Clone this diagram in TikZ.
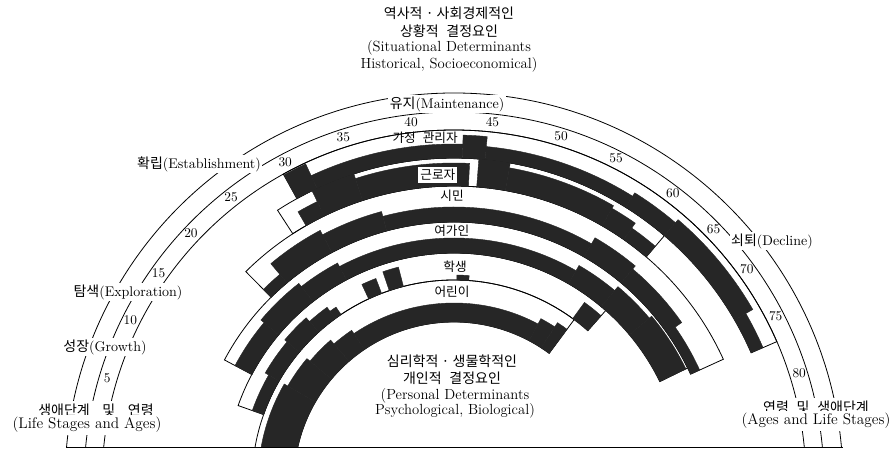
\documentclass[tikz,border=0pt]{standalone}
\usepackage{fontspec}
\newfontfamily\kr{Noto Sans CJK KR}
\newcommand\sect[4]{(#1:#3) arc[start angle=#1,end angle=#2,radius=#3] -- (#2:#4) arc[start angle=#2,end angle=#1,radius=#4] -- cycle}
\newcommand\wsp{\hspace{0.55em}}
\begin{document}
\begin{tikzpicture}[x=0.75pt,y=0.75pt,
  blk/.style={fill=black!85,draw=black!85,line width=0.3pt},
  ln/.style={line width=0.6pt},
  kor/.style={font=\kr\fontsize{10.5}{12}\selectfont,inner sep=0.5pt},
  eng/.style={font=\fontsize{11}{13}\selectfont,inner sep=0.5pt},
  agel/.style={font=\fontsize{10}{12}\selectfont,inner sep=0.5pt},
  stage/.style={font=\fontsize{10.5}{12}\selectfont,fill=white,inner sep=1pt},
  role/.style={font=\kr\fontsize{9.5}{11}\selectfont,inner sep=0.5pt}]
\useasboundingbox (0,0) rectangle (896,452);
\fill[white] (0,0) rectangle (896,452);
\begin{scope}
\clip (0,5) rectangle (896,452);
\begin{scope}[shift={(454,-30)}]
  % outer arcs
  \draw[ln] (0:389) arc[start angle=0,end angle=180,radius=389];
  \draw[ln] (0:370) arc[start angle=0,end angle=180,radius=370];
  \draw[ln] (0:352) arc[start angle=0,end angle=180,radius=352];
  % role band outlines
  \draw[ln] \sect{178}{53.5}{160}{202};
  \draw[ln] \sect{160.5}{48.5}{202}{229};
  \draw[ln] \sect{152}{26}{229}{260};
  \draw[ln] \sect{134.7}{24.5}{260}{296};
  \draw[ln] \sect{123}{49.5}{296}{324};
  \draw[ln] \sect{119}{23.5}{324}{352};
  % involvement (black)
  \foreach \a/\b/\r/\s in {
    178/150/160/196, 150/140/160/192, 140/131/160/188, 131/124/160/183,
    124/62/160/179, 62/57/160/185, 57/53.5/160/190,
    160.5/150/202/214, 150/140/202/218, 140/132/202/221, 132/126/202/216,
    126/124/202/211, 115/111/202/218, 108.7/104.5/202/222, 89.2/85.8/202/207,
    54/48.5/202/222,
    152/140/229/248, 140/128/229/252, 128/118/229/248, 118/60/229/244,
    60/50/229/250, 50/40/229/255, 40/26/229/258,
    134.7/130/260/271, 130/118/260/285, 118/105/260/280, 105/60/260/275,
    60/50/260/282, 50/35/260/278, 35/24.5/260/270,
    120/116/296/312, 116/108/296/324, 108/87.2/296/319, 85.6/80/296/324,
    80/60/296/319, 60/55/296/316, 55/49.5/296/310,
    119/115/324/351, 115/88.5/324/338, 88.5/84.5/324/347, 84.5/58/324/337,
    58/49.5/324/341, 49.5/30/324/345, 30/23.5/324/337}
    \filldraw[blk] \sect{\a}{\b}{\r}{\s};
\end{scope}
\end{scope}
% baseline
\draw[ln] (66,5) -- (843,5);
\begin{scope}[shift={(454,-30)}]
  % ages
  \foreach \ang/\age in {163.3/5,153.4/10,144.7/15,136.6/20,128/25,117.8/30,
     107.8/35,96.8/40,83.9/45,72.8/50,63.4/55,52.8/60,44.2/65,36/70,27.3/75,17.5/80}
     \node[agel] (age\age) at (\ang:362) {\age};
  % role labels
  \node[role] (rhome) at (94.8:345) {가정\wsp 관리자};
  \node[role,fill=white,inner sep=1.5pt] (rwork) at (93:307.4) {근로자};
  \node[role] (rcit) at (90.4:286) {시민};
  \node[role] (rleis) at (90.5:251) {여가인};
  \node[role] (rstud) at (89.7:215) {학생};
  \node[role] (rchild) at (90.6:190) {어린이};
\end{scope}
% stage labels
\node[stage] (sgrow) at (105,105) {{\kr 성장}(Growth)};
\node[stage] (sexpl) at (128,160) {{\kr 탐색}(Exploration)};
\node[stage] (sest) at (199,288) {{\kr 확립}(Establishment)};
\node[stage] (smain) at (447,348) {{\kr 유지}(Maintenance)};
\node[stage] (sdec) at (772,211) {{\kr 쇠퇴}(Decline)};
% title
\node[kor] (t1) at (449,439) {역사적 · 사회경제적인};
\node[kor] (t2) at (449,421) {상황적\wsp 결정요인};
\node[eng] (t3) at (449,404) {(Situational Determinants};
\node[eng] (t4) at (449,387) {Historical, Socioeconomical)};
% personal determinants
\node[kor] (p1) at (452,91) {심리학적 · 생물학적인};
\node[kor] (p2) at (452,74) {개인적\wsp 결정요인};
\node[eng] (p3) at (455,56) {(Personal Determinants};
\node[eng] (p4) at (455,41) {Psychological, Biological)};
% bottom corner labels
\node[kor,fill=white,inner sep=2pt] (lk) at (96,42) {생애단계\hspace{0.9em}및\hspace{0.9em}연령};
\node[eng,fill=white,inner sep=2pt,font=\fontsize{11.5}{13}\selectfont] (le) at (87,27) {(Life Stages and Ages)};
\node[kor,fill=white,inner sep=2pt] (rk) at (816,45) {연령\wsp 및\wsp 생애단계};
\node[eng,fill=white,inner sep=2pt,font=\fontsize{11.5}{13}\selectfont] (re) at (816,31) {(Ages and Life Stages)};
\end{tikzpicture}
\end{document}
